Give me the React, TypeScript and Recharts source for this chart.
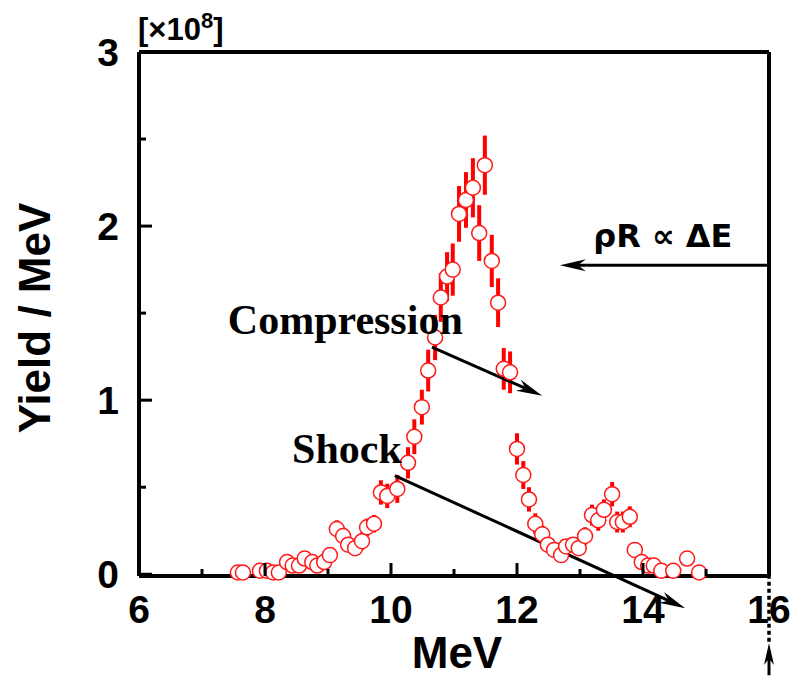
import React from 'react';
import {
  ComposedChart,
  Scatter,
  ErrorBar,
  XAxis,
  YAxis,
  ReferenceLine,
  ReferenceDot,
} from 'recharts';

// neutron spectrum, yield per MeV in units of 1e8
const energy = [
  7.57, 7.65, 7.92, 8.03, 8.13, 8.22, 8.35, 8.44, 8.54, 8.63, 8.75, 8.83, 8.94, 9.03,
  9.14, 9.24, 9.32, 9.43, 9.54, 9.62, 9.73, 9.84, 9.94, 10.1, 10.27, 10.37, 10.49,
  10.59, 10.7, 10.79, 10.89, 10.98, 11.08, 11.19, 11.3, 11.4, 11.49, 11.6, 11.7, 11.79,
  11.89, 12.0, 12.1, 12.19, 12.29, 12.4, 12.49, 12.59, 12.7, 12.78, 12.89, 12.98, 13.08,
  13.19, 13.29, 13.38, 13.51, 13.59, 13.68, 13.79, 13.87, 13.98, 14.08, 14.17, 14.29,
  14.48, 14.7, 14.89,
];
const yieldVals = [
  0.01, 0.01, 0.02, 0.02, 0.01, 0.01, 0.07, 0.05, 0.05, 0.09, 0.07, 0.05, 0.07, 0.11,
  0.26, 0.22, 0.17, 0.15, 0.19, 0.27, 0.29, 0.47, 0.45, 0.49, 0.64, 0.79, 0.96,
  1.17, 1.36, 1.59, 1.71, 1.75, 2.07, 2.15, 2.22, 1.96, 2.35, 1.8, 1.56, 1.18,
  1.16, 0.72, 0.57, 0.43, 0.29, 0.23, 0.17, 0.14, 0.11, 0.16, 0.17, 0.15, 0.22,
  0.34, 0.31, 0.37, 0.46, 0.3, 0.3, 0.33, 0.14, 0.07, 0.05, 0.05, 0.02,
  0.02, 0.09, 0.01,
];
const yieldErr = [
  0.02, 0.02, 0.02, 0.02, 0.02, 0.02, 0.03, 0.03, 0.03, 0.03, 0.03, 0.03, 0.03, 0.04,
  0.05, 0.05, 0.04, 0.04, 0.05, 0.05, 0.05, 0.07, 0.07, 0.08, 0.09, 0.1, 0.1,
  0.12, 0.13, 0.14, 0.14, 0.15, 0.16, 0.16, 0.17, 0.16, 0.17, 0.15, 0.14, 0.12,
  0.12, 0.09, 0.08, 0.07, 0.06, 0.05, 0.04, 0.04, 0.04, 0.04, 0.04, 0.04, 0.05,
  0.06, 0.06, 0.06, 0.07, 0.06, 0.06, 0.06, 0.04, 0.03, 0.03, 0.03, 0.02,
  0.02, 0.03, 0.02,
];

const xTicks = [6, 7, 8, 9, 10, 11, 12, 13, 14, 15, 16];
const topTicks = [8, 10, 12, 14];
const yTicks = [0, 0.5, 1, 1.5, 2, 2.5, 3];

const points = energy.map((x, i) => ({ x, y: yieldVals[i], err: yieldErr[i] }));

const SANS = '"Liberation Sans", Arial, sans-serif';
const SERIF = '"Liberation Serif", "Times New Roman", serif';
const RED = '#ff1a1a';
const FRAME = { stroke: '#000', strokeWidth: 4 };

const XTick = (props: any) => {
  const { x, y, payload } = props;
  const v = payload.value;
  const major = v % 2 === 0;
  return (
    <g>
      <line x1={x} x2={x} y1={y} y2={y - (major ? 13 : 7)} stroke="#000" strokeWidth={3} />
      {major && (
        <text x={x} y={y + 47} textAnchor="middle" fontFamily={SANS} fontSize={39} fontWeight="bold" fill="#000">
          {v}
        </text>
      )}
    </g>
  );
};

const TopTick = (props: any) => {
  const { x, y } = props;
  return <line x1={x} x2={x} y1={y} y2={y + 13} stroke="#000" strokeWidth={3} />;
};

const YTick = (props: any) => {
  const { x, y, payload } = props;
  const v = payload.value;
  const major = Number.isInteger(v);
  return (
    <g>
      <line x1={x} x2={x + (major ? 13 : 7)} y1={y} y2={y} stroke="#000" strokeWidth={3} />
      {major && (
        <text x={x - 20} y={y + 14} textAnchor="end" fontFamily={SANS} fontSize={39} fontWeight="bold" fill="#000">
          {v}
        </text>
      )}
    </g>
  );
};

const RightTick = (props: any) => {
  const { x, y, payload } = props;
  const major = Number.isInteger(payload.value);
  if (payload.value === 0 || payload.value === 3) return <g />;
  return <line x1={x} x2={x - (major ? 13 : 7)} y1={y} y2={y} stroke="#000" strokeWidth={3} />;
};

const Marker = (p: any) => (
  <circle cx={p.cx} cy={p.cy} r={7.5} fill="#fff" stroke={RED} strokeWidth={1.5} />
);

// line with a barbed head at the second point
const arrow = (len: number, half: number, solid = true) => (p: any) => {
  const { x1, y1, x2, y2 } = p;
  const a = Math.atan2(y2 - y1, x2 - x1);
  const c = Math.cos(a);
  const s = Math.sin(a);
  const bx = x2 - len * c;
  const by = y2 - len * s;
  const nx = x2 - len * 0.7 * c;
  const ny = y2 - len * 0.7 * s;
  const pts = `${x2},${y2} ${bx + half * s},${by - half * c} ${nx},${ny} ${bx - half * s},${by + half * c}`;
  return (
    <g>
      {solid && <line x1={x1} y1={y1} x2={nx} y2={ny} stroke="#000" strokeWidth={3} />}
      <polygon points={pts} fill="#000" />
    </g>
  );
};

const dotted = (p: any) => (
  <g>
    <line x1={p.x1} y1={p.y1} x2={p.x2} y2={p.y2} stroke="#fff" strokeWidth={5} />
    <line x1={p.x1} y1={p.y1} x2={p.x2} y2={p.y2} stroke="#000" strokeWidth={3.5} strokeDasharray="4 3" />
  </g>
);

const note = (text: string, font: string, size: number) => (p: any) => (
  <text x={p.cx} y={p.cy} fontFamily={font} fontSize={size} fontWeight="bold" fill="#000">
    {text}
  </text>
);

const scaleNote = (p: any) => (
  <text x={p.cx - 1} y={p.cy - 12} fontFamily={SANS} fontSize={31} fontWeight="bold" fill="#000">
    [×10<tspan dy={-12} fontSize={22}>8</tspan>
    <tspan dy={12}>]</tspan>
  </text>
);

const yTitle = (props: any) => {
  const vb = props.viewBox;
  const cx = vb.x + vb.width - 105;
  const cy = vb.y + vb.height / 2 + 4;
  return (
    <text
      x={cx}
      y={cy}
      transform={`rotate(-90 ${cx} ${cy})`}
      textAnchor="middle"
      dominantBaseline="central"
      fontFamily={SANS}
      fontSize={44}
      fontWeight="bold"
      fill="#000"
    >
      Yield / MeV
    </text>
  );
};

const xTitle = (props: any) => {
  const vb = props.viewBox;
  return (
    <text x={vb.x + vb.width / 2 + 3} y={vb.y + 92} textAnchor="middle" fontFamily={SANS} fontSize={44} fontWeight="bold" fill="#000">
      MeV
    </text>
  );
};

export default function App() {
  return (
    <div style={{ position: 'absolute', left: 0, top: 0, width: 797, height: 677, background: '#fff' }}>
      <ComposedChart width={797} height={677} margin={{ top: 32, right: 0, bottom: 41, left: 79 }}>
        <XAxis
          dataKey="x"
          type="number"
          domain={[6, 16]}
          ticks={xTicks}
          interval={0}
          tickSize={0}
          tickMargin={0}
          tick={<XTick />}
          stroke="#000"
          strokeWidth={4}
          axisLine={FRAME}
          height={60}
          label={{ content: xTitle }}
        />
        <XAxis
          xAxisId="t"
          orientation="top"
          type="number"
          domain={[6, 16]}
          ticks={topTicks}
          interval={0}
          tickSize={0}
          tickMargin={0}
          tick={<TopTick />}
          stroke="#000"
          strokeWidth={4}
          axisLine={FRAME}
          height={20}
        />
        <YAxis
          dataKey="y"
          type="number"
          domain={[0, 3]}
          ticks={yTicks}
          interval={0}
          tickSize={0}
          tickMargin={0}
          tick={<YTick />}
          stroke="#000"
          strokeWidth={4}
          axisLine={FRAME}
          width={60}
          label={{ content: yTitle }}
        />
        <YAxis
          yAxisId="r"
          orientation="right"
          type="number"
          domain={[0, 3]}
          ticks={yTicks}
          interval={0}
          tickSize={0}
          tickMargin={0}
          tick={<RightTick />}
          stroke="#000"
          strokeWidth={4}
          axisLine={FRAME}
          width={28}
        />
        <Scatter data={points} dataKey="y" shape={<Marker />} isAnimationActive={false}>
          <ErrorBar dataKey="err" direction="y" width={0} stroke="#ff0000" strokeWidth={4} isAnimationActive={false} />
        </Scatter>

        <ReferenceLine segment={[{ x: 16, y: 2.57 }, { x: 16, y: -0.4 }]} ifOverflow="visible" shape={dotted} />
        <ReferenceLine segment={[{ x: 16, y: -0.58 }, { x: 16, y: -0.395 }]} ifOverflow="visible" shape={arrow(22, 5)} />
        <ReferenceLine segment={[{ x: 15.98, y: 1.775 }, { x: 12.68, y: 1.775 }]} ifOverflow="visible" shape={arrow(26, 6)} />
        <ReferenceLine segment={[{ x: 10.65, y: 1.305 }, { x: 12.4, y: 1.025 }]} ifOverflow="visible" shape={arrow(26, 6)} />
        <ReferenceLine segment={[{ x: 10.06, y: 0.567 }, { x: 14.67, y: -0.195 }]} ifOverflow="visible" shape={arrow(26, 6)} />

        <ReferenceDot x={13.21} y={1.88} ifOverflow="visible" shape={note('ρR ∝ ΔE', '"DejaVu Sans", sans-serif', 32)} />
        <ReferenceDot x={7.41} y={1.38} ifOverflow="visible" shape={note('Compression', SERIF, 42)} />
        <ReferenceDot x={8.43} y={0.64} ifOverflow="visible" shape={note('Shock', SERIF, 42)} />
        <ReferenceDot x={6} y={3} ifOverflow="visible" shape={scaleNote} />
      </ComposedChart>
    </div>
  );
}
